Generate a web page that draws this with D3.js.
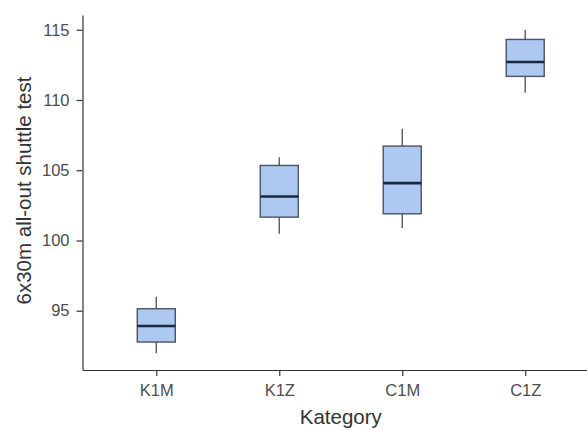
<!DOCTYPE html>
<html lang="en">
<head>
    <meta charset="UTF-8">
    <title>6x30m all-out shuttle test by Kategory</title>
    <script src="https://d3js.org/d3.v7.min.js"></script>
    <style>
        body { margin: 0; background: #fff; }
        svg { display: block; font-family: "Liberation Sans", Arial, sans-serif; }
    </style>
</head>
<body>
    <svg width="587" height="430"></svg>
    <script>
        // Data
        const categories = ["K1M", "K1Z", "C1M", "C1Z"];
        const whiskerLow = [91.97, 100.48, 100.88, 110.51];
        const q1 = [92.77, 101.66, 101.90, 111.68];
        const medians = [93.91, 103.13, 104.08, 112.70];
        const q3 = [95.14, 105.34, 106.72, 114.31];
        const whiskerHigh = [96.0, 105.93, 107.96, 114.98];
        const yTicks = [95, 100, 105, 110, 115];

        const boxes = categories.map((c, i) => ({
            cat: c, lo: whiskerLow[i], q1: q1[i], med: medians[i], q3: q3[i], hi: whiskerHigh[i]
        }));

        // Dimensions (panel runs past the right edge, as in the reference)
        const margin = { top: 15, left: 82.5 };
        const panelRight = 599;
        const panelBottom = 370;
        const boxWidth = 38;

        const svg = d3.select("svg");

        const xScale = d3.scalePoint()
            .domain(categories)
            .range([margin.left, panelRight])
            .padding(0.6);

        const yScale = d3.scaleLinear()
            .domain([90.78, 116.05])
            .range([panelBottom, margin.top]);

        // Y axis
        const yAxis = svg.append("g")
            .attr("transform", `translate(${margin.left},0)`)
            .call(d3.axisLeft(yScale).tickValues(yTicks).tickSize(6).tickPadding(7).tickSizeOuter(0));
        yAxis.select(".domain").attr("stroke", "#333").attr("stroke-width", 1.2);
        yAxis.selectAll(".tick line").attr("stroke", "#333").attr("stroke-width", 1.2);
        yAxis.selectAll(".tick text").attr("fill", "#4d4d4d").style("font-size", "16.5px");

        // X axis
        const xAxis = svg.append("g")
            .attr("transform", `translate(0,${panelBottom})`)
            .call(d3.axisBottom(xScale).tickSize(6).tickPadding(8).tickSizeOuter(0));
        xAxis.select(".domain").attr("stroke", "#333").attr("stroke-width", 1.2);
        xAxis.selectAll(".tick line").attr("stroke", "#333").attr("stroke-width", 1.2);
        xAxis.selectAll(".tick text").attr("fill", "#4d4d4d").style("font-size", "16.5px");

        // Boxes
        const g = svg.append("g");
        const box = g.selectAll(".box")
            .data(boxes)
            .enter().append("g")
            .attr("class", "box");

        // whiskers
        box.append("line")
            .attr("x1", d => xScale(d.cat))
            .attr("x2", d => xScale(d.cat))
            .attr("y1", d => yScale(d.hi))
            .attr("y2", d => yScale(d.q3))
            .attr("stroke", "#5a5a5a")
            .attr("stroke-width", 1.4);
        box.append("line")
            .attr("x1", d => xScale(d.cat))
            .attr("x2", d => xScale(d.cat))
            .attr("y1", d => yScale(d.q1))
            .attr("y2", d => yScale(d.lo))
            .attr("stroke", "#5a5a5a")
            .attr("stroke-width", 1.4);

        // box body
        box.append("rect")
            .attr("x", d => xScale(d.cat) - boxWidth / 2)
            .attr("y", d => yScale(d.q3))
            .attr("width", boxWidth)
            .attr("height", d => yScale(d.q1) - yScale(d.q3))
            .attr("fill", "#adc8f1")
            .attr("stroke", "#4a5263")
            .attr("stroke-width", 1.4);

        // median
        box.append("line")
            .attr("x1", d => xScale(d.cat) - boxWidth / 2)
            .attr("x2", d => xScale(d.cat) + boxWidth / 2)
            .attr("y1", d => yScale(d.med))
            .attr("y2", d => yScale(d.med))
            .attr("stroke", "#1d2740")
            .attr("stroke-width", 2.6);

        // Axis titles
        svg.append("text")
            .attr("x", (margin.left + panelRight) / 2)
            .attr("y", 424)
            .attr("text-anchor", "middle")
            .attr("fill", "#333")
            .style("font-size", "20.5px")
            .text("Kategory");

        svg.append("text")
            .attr("transform", "rotate(-90)")
            .attr("x", -190.5)
            .attr("y", 31)
            .attr("text-anchor", "middle")
            .attr("fill", "#333")
            .style("font-size", "20.5px")
            .text("6x30m all-out shuttle test");
    </script>
</body>
</html>
